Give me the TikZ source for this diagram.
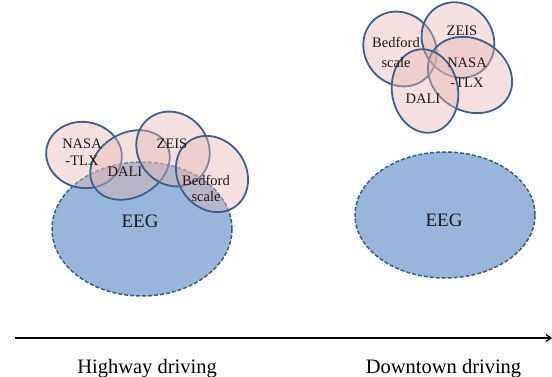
\documentclass[tikz,border=0pt]{standalone}
\usepackage{fontspec}
\setmainfont{Liberation Serif}
\usetikzlibrary{arrows.meta}
\definecolor{pinkfill}{RGB}{228,182,180}
\definecolor{ringline}{RGB}{64,96,138}
\definecolor{eegfill}{RGB}{152,182,217}
\definecolor{eegline}{RGB}{58,92,135}
\definecolor{txt}{RGB}{30,25,25}
\tikzset{
  ring/.style={draw=ringline, line width=1.8pt, fill=pinkfill, fill opacity=0.42, draw opacity=1},
  eeg/.style={draw=eegline, line width=1.5pt, dashed, dash pattern=on 4pt off 2pt, fill=eegfill},
  lbl/.style={text=txt, inner sep=0pt, align=center, font=\fontsize{14.5}{16.5}\selectfont},
  lblr/.style={lbl, font=\fontsize{14.5}{20}\selectfont},
  eeglbl/.style={text=txt, inner sep=0pt, anchor=base, font=\fontsize{19}{22}\selectfont},
  axislbl/.style={text=black, inner sep=0pt, anchor=base, font=\fontsize{20.5}{24}\selectfont}
}
\begin{document}
\begin{tikzpicture}[x=1pt,y=1pt]
\useasboundingbox (0,0) rectangle (552,376);
% left group
\draw[eeg] (142,147) ellipse [x radius=90, y radius=67];
\draw[ring, rotate around={-10:(84,221)}] (84,221) ellipse [x radius=38, y radius=33];
\draw[ring, rotate around={30:(130,211)}] (130,211) ellipse [x radius=42, y radius=32];
\draw[ring, rotate around={-50:(173,227)}] (173,227) ellipse [x radius=39, y radius=35];
\draw[ring, rotate around={-55:(212,202)}] (212,202) ellipse [x radius=40, y radius=34];
\node[lbl] (lnasa) at (82,224) {NASA\\-TLX};
\node[lbl, anchor=base] (ldali) at (125,200) {DALI};
\node[lbl, anchor=base] (lzeis) at (172,228) {ZEIS};
\node[lbl] (lbed) at (206,187.5) {Bedford\\scale};
\node[eeglbl] (leeg) at (140,149) {EEG};
% right group
\draw[eeg] (445,161) ellipse [x radius=90, y radius=63];
\draw[ring, rotate around={-50:(400,327)}] (400,327) ellipse [x radius=39, y radius=35];
\draw[ring, rotate around={-55:(458,336)}] (458,336) ellipse [x radius=39, y radius=35];
\draw[ring, rotate around={-30:(470,301)}] (470,301) ellipse [x radius=44, y radius=36];
\draw[ring, rotate around={100:(425,285)}] (425,285) ellipse [x radius=42, y radius=33];
\node[lblr] (rbed) at (396,324) {Bedford\\scale};
\node[lbl, anchor=base] (rzeis) at (462,341) {ZEIS};
\node[lblr] (rnasa) at (467,303) {NASA\\-TLX};
\node[lbl, anchor=base] (rdali) at (423,273) {DALI};
\node[eeglbl] (reeg) at (444,150) {EEG};
% axis
\coordinate (axs) at (15,38);
\coordinate (axe) at (552,38);
\draw[line width=1.3pt, -{Straight Barb[length=5pt,width=7pt]}] (axs) -- (axe);
\node[axislbl] (hw) at (147,3) {Highway driving};
\node[axislbl] (dt) at (443.5,3) {Downtown driving};
\end{tikzpicture}
\end{document}
